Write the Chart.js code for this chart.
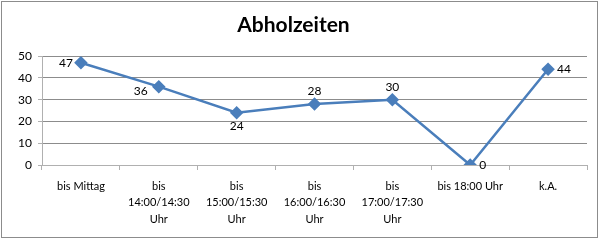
<!DOCTYPE html>
<html><head><meta charset="utf-8">
<script src="https://cdn.jsdelivr.net/npm/chart.js@4"></script>
<style>html,body{margin:0;padding:0;background:#fff}#w{width:601px;height:241px}</style>
</head><body><div id="w"><canvas id="c"></canvas></div>
<script>
const categories = [
  ['bis Mittag'],
  ['bis', '14:00/14:30', 'Uhr'],
  ['bis', '15:00/15:30', 'Uhr'],
  ['bis', '16:00/16:30', 'Uhr'],
  ['bis', '17:00/17:30', 'Uhr'],
  ['bis 18:00 Uhr'],
  ['k.A.']
];
const values = [47, 36, 24, 28, 30, 0, 44];
const yTicks = [0, 10, 20, 30, 40, 50];
const labelAlign = ['left', 'belowleft', 'below', 'above', 'above', 'right', 'right'];
const FONT = 'Lato, "Open Sans", sans-serif';

const borderPlugin = {
  id: 'border',
  afterDraw(chart) {
    const ctx = chart.ctx;
    ctx.save();
    ctx.strokeStyle = '#8c8c8c';
    ctx.lineWidth = 1;
    ctx.strokeRect(1.5, 1.5, 596, 236);
    ctx.restore();
  }
};
const labelPlugin = {
  id: 'vlabels',
  afterDatasetsDraw(chart) {
    const ctx = chart.ctx;
    const meta = chart.getDatasetMeta(0);
    ctx.save();
    ctx.font = '12px ' + FONT;
    ctx.fillStyle = '#000';
    meta.data.forEach((pt, i) => {
      const t = String(values[i]);
      const a = labelAlign[i];
      let x = pt.x, y = pt.y;
      ctx.textBaseline = 'middle';
      if (a === 'left') { ctx.textAlign = 'right'; x -= 8; }
      else if (a === 'right') { ctx.textAlign = 'left'; x += 9; }
      else if (a === 'above') { ctx.textAlign = 'center'; y -= 13; }
      else if (a === 'below') { ctx.textAlign = 'center'; y += 13; }
      else if (a === 'belowleft') { ctx.textAlign = 'center'; x -= 18; y += 4; }
      ctx.fillText(t, x, y);
    });
    ctx.restore();
  }
};

new Chart(document.getElementById('c'), {
  type: 'line',
  data: {
    labels: categories,
    datasets: [{
      data: values,
      borderColor: '#4a7ebb',
      backgroundColor: '#4a7ebb',
      borderWidth: 2.5,
      pointStyle: 'rectRot',
      pointRadius: 5,
      pointHoverRadius: 5,
      tension: 0
    }]
  },
  options: {
    responsive: true,
    maintainAspectRatio: false,
    animation: false,
    events: [],
    layout: { padding: { left: 0, right: 14, top: 0, bottom: 0 } },
    plugins: {
      legend: { display: false },
      tooltip: { enabled: false },
      title: {
        display: true,
        text: 'Abholzeiten',
        color: '#000',
        font: { family: FONT, size: 21, weight: 'bold' },
        padding: { top: 13, bottom: 18 }
      }
    },
    scales: {
      x: {
        offset: true,
        grid: { offset: true, drawOnChartArea: false, color: '#b0b0b0', tickLength: 5, tickColor: '#b0b0b0' },
        border: { color: '#b0b0b0' },
        ticks: { color: '#000', font: { family: FONT, size: 11, lineHeight: 1.5 }, maxRotation: 0, autoSkip: false, padding: 8 },
        afterFit(s) { s.height = 76; }
      },
      y: {
        min: 0, max: 50,
        afterBuildTicks(s) { s.ticks = yTicks.map(v => ({ value: v })); },
        grid: { color: '#8c8c8c', tickLength: 4, tickColor: '#b0b0b0' },
        border: { color: '#b0b0b0' },
        ticks: { color: '#000', font: { family: FONT, size: 12 }, padding: 6 },
        afterFit(s) { s.width = 42; }
      }
    }
  },
  plugins: [borderPlugin, labelPlugin]
});
</script></body></html>
